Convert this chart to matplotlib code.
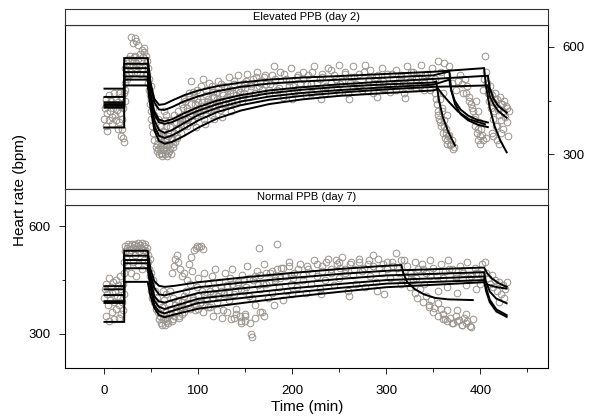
import matplotlib.pyplot as plt
import numpy as np
from matplotlib.ticker import FixedLocator, NullFormatter

plt.rcParams['font.family'] = ['Liberation Sans', 'DejaVu Sans']

# ---- Elevated PPB (day 2): fitted curves, one per animal ----
elev_base = [483, 460, 445, 440, 435, 430, 375]
elev_step = [568, 552, 540, 529, 517, 508, 492]
elev_rec_t = [46, 49, 53, 58, 64, 72, 85, 100, 120, 145, 175, 210, 250, 300, 350]
elev_rec_hr = [
    [568, 500, 455, 438, 440, 450, 465, 478, 490, 500, 508, 514, 518, 524, 530],
    [552, 490, 445, 425, 424, 432, 448, 462, 476, 488, 497, 503, 508, 514, 520],
    [540, 470, 420, 397, 392, 398, 415, 432, 450, 465, 478, 487, 495, 503, 510],
    [529, 460, 410, 390, 385, 390, 405, 422, 440, 457, 470, 480, 488, 495, 500],
    [517, 450, 395, 368, 360, 368, 388, 410, 430, 447, 461, 471, 479, 487, 494],
    [508, 440, 380, 352, 346, 353, 372, 395, 418, 437, 452, 463, 472, 481, 488],
    [492, 430, 368, 338, 330, 335, 352, 375, 400, 422, 440, 453, 463, 471, 478],
]
elev_end_t = [
    [350, 404, 406, 410, 415, 421, 428],
    [350, 367, 369, 373, 379, 387, 397, 408],
    [350, 408, 410, 414, 419, 428],
    [350, 353, 356, 360, 366, 373],
    [350, 367, 369, 373, 379, 387, 397, 408],
    [350, 408, 410, 414, 419, 428],
    [350, 355, 360, 367, 376, 388, 405],
]
elev_end_hr = [
    [530, 540, 490, 430, 380, 340, 306],
    [520, 531, 480, 440, 412, 395, 383, 376],
    [510, 519, 485, 455, 435, 416],
    [500, 503, 450, 405, 362, 325],
    [494, 508, 478, 448, 425, 408, 396, 389],
    [488, 492, 462, 440, 421, 402],
    [478, 483, 466, 445, 420, 398, 384],
]

# observed heart rate, day 2
elev_obs_t = [
    0, 1, 2, 2, 3, 4, 5, 5, 6, 7, 8, 8, 9, 10, 10, 11, 12, 12, 13, 14, 15, 15, 16, 17, 18, 18, 19, 20, 20, 21, 19, 3, 14, 22, 22,
    21, 22, 23, 22, 24, 25, 26, 27, 28, 29, 30, 31, 32, 33, 34, 35, 36, 37, 38, 39, 40, 41, 42, 43, 44, 45, 46, 30, 32, 34, 28, 36, 40, 42, 26, 38, 44, 24,
    45, 46, 47, 48, 48, 49, 50, 50, 51, 52, 52, 53, 54, 55, 55, 56, 57, 47, 49, 53,
    58, 59, 60, 60, 61, 62, 62, 63, 64, 65, 65, 66, 67, 68, 68, 69, 70, 70, 71, 72, 73, 74, 75, 76, 77, 78, 79, 80, 58, 60, 64, 66, 63, 57,
    82, 84, 85, 86, 88, 90, 91, 92, 94, 95, 96, 98, 99, 100, 102, 103, 104, 106, 108, 110, 111, 112, 114, 116, 118, 120, 121, 123, 125, 127,
    128, 130, 132, 134, 136, 138, 140, 142, 144, 146, 148, 150, 152, 154, 156, 158, 160, 162, 164, 166, 168, 170, 88, 97, 107, 117, 125, 135, 105, 92,
    172, 175, 178, 181, 184, 187, 190, 193, 196, 199, 202, 205, 208, 211, 214, 217, 220, 223, 226, 229, 232, 235, 238, 241, 244, 247, 250,
    253, 256, 259, 262, 265, 268, 271, 274, 277, 280, 283, 286, 289, 292, 295, 298, 301, 304, 307, 310, 313, 316, 319, 322, 325, 328, 331,
    334, 337, 340, 343, 346, 349, 352, 355, 358, 361, 364, 367, 370, 180, 200, 230, 260, 290, 320,
    352, 354, 355, 356, 357, 358, 359, 360, 361, 362, 363, 364, 366, 368, 370, 372, 365, 360, 374, 376, 378, 380, 382, 384, 386, 388, 390,
    392, 393, 394, 395, 396, 397, 398, 399, 400, 401, 402, 403, 404, 405, 406, 407, 408, 409, 410, 411, 412, 413, 414, 415, 416, 417, 418,
    419, 420, 421, 422, 423, 424, 425, 426, 427, 428, 414, 418, 422, 420,
    56, 58, 60, 62, 64, 66, 68, 70, 72, 74, 76, 78, 80, 82, 84, 86, 88, 90, 92, 94, 96, 98, 100, 102, 104, 106, 108, 110, 112, 114,
    116, 118, 120, 122, 124, 126, 128, 130, 134, 138, 142, 146, 150,
    57, 61, 65, 69, 73, 77, 81, 85, 89, 93, 97, 101, 105, 109, 113, 117, 121, 125, 129, 133, 137, 141, 145, 149,
    151, 156, 161, 166, 171, 176, 181, 186, 191, 196, 201, 206, 211, 216, 221, 226, 231, 236, 241, 246, 251, 256, 261, 266, 271, 276,
    281, 286, 291, 296, 301, 306, 311, 316, 321, 326, 331, 336, 341, 346,
    160, 175, 190, 205, 220, 235, 250, 265, 280, 295, 310, 325, 340,
    353, 355, 357, 359, 361, 363, 365, 367, 369, 371, 385, 388, 391, 394, 397, 400, 403, 406,
    410, 413, 416, 419, 422, 425, 428, 430, 412, 418, 424, 429,
]
elev_obs_hr = [
    400, 430, 455, 380, 415, 440, 395, 465, 420, 450, 405, 385, 430, 470, 440, 410, 395, 455, 425, 445, 390, 470, 415, 435, 460, 350, 400, 430, 345, 335, 370, 365, 372, 480, 450,
    470, 500, 520, 540, 555, 565, 545, 575, 530, 560, 550, 570, 540, 575, 555, 530, 565, 545, 580, 560, 540, 570, 585, 550, 575, 560, 540, 610, 625, 615, 628, 605, 590, 595, 520, 525, 520, 510,
    525, 500, 480, 465, 440, 420, 455, 400, 380, 430, 360, 340, 395, 320, 370, 310, 345, 510, 490, 410,
    300, 320, 340, 305, 295, 315, 355, 330, 300, 310, 345, 325, 295, 305, 360, 330, 315, 375, 300, 340, 320, 360, 335, 390, 350, 370, 405, 385, 360, 380, 395, 410, 420, 400,
    400, 430, 455, 395, 420, 470, 410, 440, 390, 460, 425, 480, 405, 445, 415, 490, 435, 400, 465, 425, 500, 445, 410, 475, 435, 455, 505, 425, 470, 490,
    440, 460, 515, 480, 445, 495, 465, 520, 475, 450, 500, 485, 525, 460, 495, 510, 470, 530, 490, 505, 480, 515, 380, 375, 385, 400, 405, 420, 510, 505,
    495, 470, 520, 505, 480, 530, 460, 510, 490, 540, 475, 515, 500, 530, 465, 520, 495, 545, 480, 510, 525, 470, 540, 500, 520, 485, 550,
    505, 530, 470, 515, 545, 495, 525, 480, 550, 505, 535, 470, 515, 500, 540, 485, 525, 475, 510, 535, 495, 520, 470, 545, 505, 530, 485,
    515, 550, 500, 525, 480, 540, 510, 560, 530, 555, 520, 545, 500, 545, 455, 455, 455, 460, 458,
    470, 440, 420, 400, 455, 380, 430, 360, 395, 345, 370, 330, 350, 325, 340, 320, 410, 470, 480, 505, 520, 495, 470, 510, 490, 460, 440,
    420, 400, 380, 450, 360, 420, 340, 390, 330, 370, 355, 480, 510, 575, 530, 500, 470, 450, 490, 430, 465, 400, 445, 420, 470, 380, 455,
    430, 410, 460, 395, 440, 420, 450, 405, 435, 390, 350, 340, 360, 330,
    330, 350, 325, 365, 340, 380, 350, 395, 345, 410, 370, 420, 395, 440, 410, 450, 430, 460, 415, 475, 440, 455, 420, 470, 445, 430,
    480, 455, 440, 490, 460, 430, 475, 450, 495, 465, 440, 485, 470, 505, 480, 460, 495,
    315, 300, 320, 310, 330, 345, 360, 380, 400, 395, 410, 430, 425, 445, 420, 460, 440, 430, 455, 440, 470, 450, 485, 470,
    505, 490, 515, 500, 520, 495, 510, 485, 525, 505, 490, 520, 510, 495, 530, 500, 515, 490, 535, 510, 495, 525, 500, 515, 490, 530,
    510, 495, 520, 505, 490, 525, 500, 515, 495, 530, 510, 490, 520, 505,
    470, 478, 468, 482, 472, 485, 475, 488, 476, 486, 480, 490, 478,
    455, 410, 390, 420, 380, 360, 340, 355, 330, 315, 470, 450, 430, 405, 370, 350, 340, 345,
    470, 445, 455, 425, 440, 415, 430, 420, 360, 380, 370, 350,
]

# ---- Normal PPB (day 7) ----
norm_base = [408, 433, 424, 391, 386, 333]
norm_step = [532, 518, 506, 497, 483, 445]
norm_rec_t = [46, 49, 53, 58, 64, 75, 100, 150, 200, 250, 300]
norm_rec_hr = [
    [532, 480, 447, 434, 431, 434, 444, 458, 470, 481, 490],
    [518, 465, 428, 410, 407, 415, 430, 444, 456, 467, 476],
    [506, 450, 405, 390, 387, 396, 414, 428, 441, 453, 463],
    [497, 440, 392, 375, 369, 378, 398, 413, 427, 439, 450],
    [483, 428, 380, 362, 357, 366, 386, 401, 415, 428, 440],
    [445, 405, 372, 352, 346, 354, 370, 387, 403, 417, 430],
]
norm_end_t = [
    [300, 316, 318, 322, 330, 340, 352, 366, 392],
    [300, 404, 407, 412, 419, 428],
    [300, 404, 406, 410, 417, 428],
    [300, 404, 406, 410, 417, 428],
    [300, 404, 406, 410, 417, 428],
    [300, 404, 408, 416, 428],
]
norm_end_hr = [
    [490, 492, 470, 445, 425, 410, 400, 396, 394],
    [476, 485, 470, 455, 442, 431],
    [463, 472, 445, 418, 398, 385],
    [450, 460, 430, 395, 368, 352],
    [440, 450, 420, 388, 362, 347],
    [430, 444, 437, 431, 426],
]

norm_obs_t = [
    0, 1, 2, 2, 3, 4, 5, 5, 6, 7, 8, 8, 9, 10, 10, 11, 12, 12, 13, 14, 15, 15, 16, 17, 18, 18, 19, 20, 20, 21, 21,
    21, 22, 22, 23, 24, 25, 26, 27, 28, 29, 30, 31, 32, 33, 34, 35, 36, 37, 38, 39, 40, 41, 42, 43, 44, 45, 46, 24, 30, 36, 42, 28, 40, 34,
    46, 47, 48, 48, 49, 50, 50, 51, 52, 53, 54, 55, 56, 57, 58,
    59, 60, 61, 62, 63, 64, 65, 66, 67, 68, 69, 70, 71, 72, 73, 74, 75, 76, 78, 79, 80, 82, 83, 85, 62, 70,
    72, 74, 75, 77, 78, 80, 82, 85, 90, 92, 95, 97, 99, 101, 103, 105, 88, 93,
    87, 89, 91, 94, 96, 98, 100, 102, 104, 106, 108, 110, 112, 114, 116, 118, 120, 122, 124, 126, 128, 130, 132, 134, 136, 138, 140, 142,
    144, 146, 148, 150, 152, 154, 156, 157, 158, 160, 162, 164, 166, 168, 170, 172, 174, 176, 178, 180, 182, 184, 186, 188, 190, 192, 194,
    196, 198, 200, 145, 150, 138,
    202, 205, 208, 211, 214, 217, 220, 223, 226, 229, 232, 235, 238, 241, 244, 247, 250, 253, 256, 259, 262, 265, 268, 271, 274, 277, 280,
    283, 286, 289, 292, 295, 298, 301, 304, 307, 310, 313, 316, 319, 230, 260, 290, 250,
    322, 326, 330, 334, 338, 342, 346, 350, 354, 358, 362, 366, 370, 374, 378, 382, 386, 390, 394, 398, 402, 405,
    320, 322, 325, 328, 330, 333, 336, 339, 342, 345, 348, 351, 355, 358, 340,
    360, 362, 365, 368, 371, 374, 377, 380, 383, 386, 389, 392, 375, 385,
    355, 365, 375, 385, 395, 400,
    406, 408, 410, 412, 414, 416, 418, 420, 422, 424, 426, 428, 425, 420,
    58, 61, 64, 67, 70, 73, 76, 79, 82, 85, 88, 91, 94, 97, 100, 103, 106, 109, 112, 115, 118, 121, 124, 127, 130, 133, 136, 139,
    142, 145, 148, 151, 154, 157, 160, 163, 166, 169, 172, 175, 178, 181, 184, 187, 190, 193, 196, 199,
    100, 105, 110, 115, 120, 125, 130, 135, 140, 145, 150, 155, 160, 165, 170,
    201, 206, 211, 216, 221, 226, 231, 236, 241, 246, 251, 256, 261, 266, 271, 276, 281, 286, 291, 296, 301, 306, 311, 316,
    325, 332, 339, 346, 353, 360, 367, 374, 381, 388, 395, 402,
    345, 350, 355, 360, 365, 370, 375, 380, 385, 390,
]
norm_obs_hr = [
    400, 425, 440, 350, 410, 380, 455, 335, 395, 430, 360, 415, 445, 390, 340, 420, 370, 450, 405, 435, 380, 345, 460, 400, 425, 355, 390, 440, 365, 470, 410,
    500, 530, 545, 515, 540, 550, 525, 545, 535, 552, 540, 548, 520, 550, 538, 545, 553, 530, 548, 540, 555, 535, 545, 550, 530, 540, 520, 490, 500, 495, 505, 470, 480, 460,
    500, 480, 510, 460, 440, 470, 420, 400, 450, 390, 420, 370, 400, 360, 385,
    350, 330, 375, 340, 395, 325, 360, 410, 345, 330, 385, 355, 370, 335, 400, 350, 380, 360, 395, 345, 370, 390, 355, 405, 420, 420,
    470, 490, 510, 520, 500, 480, 460, 470, 495, 515, 535, 540, 545, 542, 545, 538, 450, 475,
    420, 380, 440, 400, 365, 430, 455, 385, 420, 470, 400, 440, 375, 460, 410, 480, 390, 445, 420, 365, 470, 430, 395, 455, 480, 410, 370, 440,
    350, 465, 420, 335, 490, 405, 300, 290, 450, 380, 475, 540, 425, 360, 495, 440, 400, 470, 415, 380, 455, 550, 430, 485, 395, 460, 420,
    500, 440, 410, 330, 355, 345,
    470, 430, 495, 450, 415, 480, 440, 505, 460, 425, 490, 450, 510, 470, 435, 495, 455, 515, 480, 420, 500, 465, 440, 510, 475, 430, 495,
    460, 520, 445, 485, 470, 410, 500, 455, 490, 525, 470, 440, 505, 410, 405, 420, 500,
    490, 470, 500, 480, 495, 470, 505, 485, 460, 495, 475, 505, 480, 455, 490, 470, 500, 460, 485, 470, 495, 500,
    460, 445, 430, 450, 415, 400, 425, 390, 405, 380, 395, 372, 385, 370, 440,
    355, 340, 365, 345, 330, 350, 338, 325, 345, 335, 322, 340, 365, 355,
    420, 430, 415, 435, 425, 440,
    470, 455, 440, 465, 430, 450, 420, 445, 410, 435, 425, 445, 400, 390,
    340, 325, 345, 335, 355, 340, 365, 350, 375, 360, 385, 370, 395, 380, 405, 390, 410, 395, 420, 400, 425, 405, 430, 410, 435, 415,
    440, 420, 445, 425, 450, 430, 455, 400, 460, 435, 465, 440, 470, 445, 475, 450, 480, 455, 485, 460, 490, 465,
    370, 360, 375, 350, 365, 345, 360, 340, 355, 335, 350, 330, 345, 360, 350,
    455, 480, 465, 490, 470, 495, 475, 500, 480, 505, 485, 470, 495, 480, 500, 485, 505, 490, 510, 495, 480, 500, 485, 505,
    470, 455, 480, 460, 475, 455, 480, 460, 475, 455, 470, 465,
    375, 360, 350, 340, 335, 330, 335, 325, 330, 320,
]

point_col = '#99938d'
xlim = (-42, 472)
ylim = (204, 660)

fig = plt.figure(figsize=(5.98, 4.18), dpi=100)

left, width = 65 / 598, 483 / 598
strip_h = 16 / 418
ax_top = fig.add_axes([left, 1 - 189 / 418, width, 164 / 418])
ax_bot = fig.add_axes([left, 1 - 368 / 418, width, 163 / 418])
strip_top = fig.add_axes([left, 1 - 25 / 418, width, strip_h])
strip_bot = fig.add_axes([left, 1 - 205 / 418, width, strip_h])


def draw_panel(ax, obs_t, obs_hr, base, step, rec_t, rec_hr, end_t, end_hr):
    ax.plot(obs_t, obs_hr, 'o', ms=4.8, mfc='none', mec=point_col, mew=0.7, zorder=1)
    for i in range(len(base)):
        t = [0, 21, 21] + rec_t + end_t[i][1:]
        hr = [base[i], base[i], step[i]] + rec_hr[i] + end_hr[i][1:]
        ax.plot(t, hr, color='black', lw=1.4, zorder=2, solid_joinstyle='miter')
    ax.set_xlim(*xlim)
    ax.set_ylim(*ylim)
    for s in ax.spines.values():
        s.set_linewidth(0.8)


draw_panel(ax_top, elev_obs_t, elev_obs_hr, elev_base, elev_step,
           elev_rec_t, elev_rec_hr, elev_end_t, elev_end_hr)
draw_panel(ax_bot, norm_obs_t, norm_obs_hr, norm_base, norm_step,
           norm_rec_t, norm_rec_hr, norm_end_t, norm_end_hr)

# y axis alternates: right side on top panel, left side on bottom panel
for ax, side in [(ax_top, 'right'), (ax_bot, 'left')]:
    ax.yaxis.set_major_locator(FixedLocator([300, 600]))
    ax.yaxis.set_minor_locator(FixedLocator([450]))
    ax.yaxis.set_ticks_position(side)
    ax.tick_params(axis='y', which='major', length=4.5, width=0.6, labelsize=9.5, pad=6)
    ax.tick_params(axis='y', which='minor', length=2.5, width=0.6)

ax_top.tick_params(axis='x', which='both', bottom=False, labelbottom=False)
ax_bot.xaxis.set_major_locator(FixedLocator([0, 100, 200, 300, 400]))
ax_bot.xaxis.set_minor_locator(FixedLocator([50, 150, 250, 350, 450]))
ax_bot.xaxis.set_minor_formatter(NullFormatter())
ax_bot.tick_params(axis='x', which='major', length=4.5, width=0.6, labelsize=9.5, pad=8)
ax_bot.tick_params(axis='x', which='minor', length=3, width=0.6)

for strip, title in [(strip_top, 'Elevated PPB (day 2)'), (strip_bot, 'Normal PPB (day 7)')]:
    strip.set_xticks([])
    strip.set_yticks([])
    for s in strip.spines.values():
        s.set_linewidth(0.8)
        s.set_color('#333333')
    strip.text(0.5, 0.5, title, ha='center', va='center', fontsize=8,
               transform=strip.transAxes)

fig.text(20 / 598, 1 - 190 / 418, 'Heart rate (bpm)', rotation=90,
         ha='center', va='center', fontsize=11)
fig.text(307 / 598, 1 - 407 / 418, 'Time (min)', ha='center', va='center', fontsize=11)

fig.savefig('out.png', dpi=100)
